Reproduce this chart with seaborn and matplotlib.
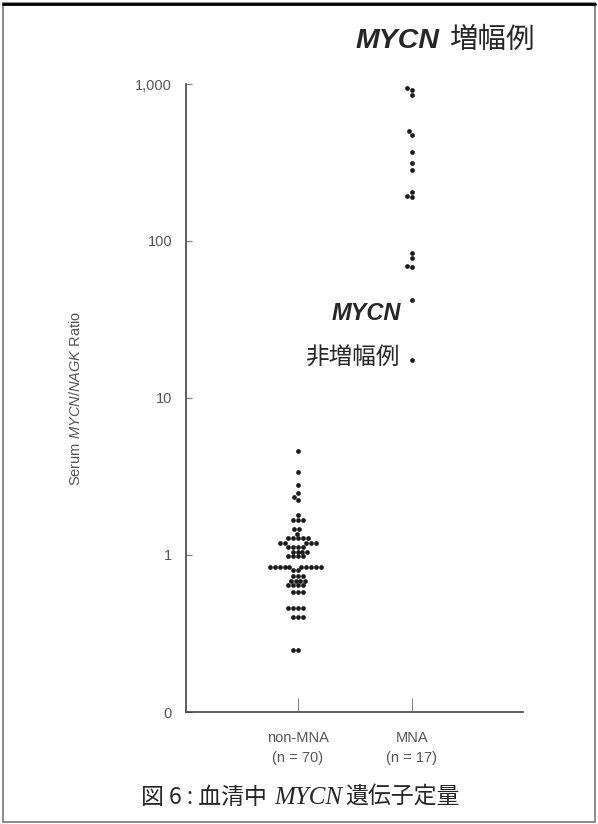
import numpy as np
import pandas as pd
import seaborn as sns
import matplotlib.pyplot as plt
from matplotlib.offsetbox import TextArea, HPacker, AnchoredOffsetbox
from matplotlib.patches import Rectangle
from matplotlib.lines import Line2D
from matplotlib.ticker import NullLocator

# serum MYCN/NAGK ratio
non_mna_values = [4.6, 3.4, 2.8, 2.5, 2.35, 2.24,
                  1.8, 1.67, 1.67, 1.67, 1.46, 1.46, 1.37,
                  1.28, 1.28, 1.28, 1.28, 1.28,
                  1.19, 1.19, 1.19, 1.19, 1.19,
                  1.13, 1.13, 1.13, 1.13,
                  1.05, 1.05, 1.05, 1.05,
                  0.98, 0.98, 0.98, 0.98,
                  0.84, 0.84, 0.84, 0.84, 0.84, 0.84, 0.84, 0.84, 0.84, 0.84,
                  0.80, 0.80, 0.74, 0.74, 0.74,
                  0.68, 0.68, 0.68, 0.68, 0.64, 0.64, 0.64, 0.64,
                  0.58, 0.58, 0.58,
                  0.46, 0.46, 0.46, 0.46, 0.40, 0.40, 0.40,
                  0.25, 0.25]
mna_values = [944, 916, 851, 502, 473, 369, 314, 283, 205, 194, 191,
              84, 78, 69, 68, 42, 17.5]

groups = ['non-MNA', 'MNA']
group_labels = ['non-MNA\n(n = 70)', 'MNA\n(n = 17)']
y_ticks = [0.1, 1, 10, 100, 1000]
y_ticklabels = ['0', '1', '10', '100', '1,000']

df = pd.DataFrame({
    'group': [groups[0]] * len(non_mna_values) + [groups[1]] * len(mna_values),
    'ratio': non_mna_values + mna_values,
})

sns.set_style('ticks')
plt.rcParams['font.family'] = ['Liberation Sans', 'Noto Sans CJK JP', 'DejaVu Sans']
plt.rcParams['mathtext.fontset'] = 'custom'
plt.rcParams['mathtext.rm'] = 'Liberation Sans'
plt.rcParams['mathtext.it'] = 'Liberation Sans:italic'

W, H = 598, 824
fig = plt.figure(figsize=(W / 100, H / 100), dpi=100)
ax = fig.add_axes([186 / W, 1 - 712 / H, 337 / W, 628 / H])

sns.swarmplot(data=df, x='group', y='ratio', order=groups, color='#1a1a1a',
              size=3.4, log_scale=True, ax=ax)

ax.set_ylim(0.1, 1000)
ax.set_yticks(y_ticks)
ax.set_yticklabels(y_ticklabels)
ax.yaxis.set_minor_locator(NullLocator())
ax.set_xlim(-0.982, 1.974)
ax.set_xticks([0, 1])
ax.set_xticklabels(group_labels, linespacing=1.5)
ax.set_xlabel('')
ax.set_ylabel(r'Serum $\mathit{MYCN/NAGK}$ Ratio', fontsize=10.5, color='#555555')
ax.yaxis.set_label_coords(-0.305, 0.5)

sns.despine(ax=ax)
for side in ['left', 'bottom']:
    ax.spines[side].set_color('#444444')
    ax.spines[side].set_linewidth(1.2)
ax.tick_params(axis='y', direction='in', length=4, color='#777777',
               labelcolor='#555555', labelsize=10.5, pad=10)
ax.tick_params(axis='x', direction='in', length=10, color='#888888',
               labelcolor='#555555', labelsize=10.5, pad=14)

# group annotations
top_label = HPacker(children=[
    TextArea('MYCN', textprops=dict(family='Liberation Sans', weight='bold', style='italic', size=20.5)),
    TextArea('増幅例', textprops=dict(family='Noto Sans CJK JP', size=20.5)),
], sep=7, align='baseline', pad=0)
fig.add_artist(AnchoredOffsetbox(loc='center', child=top_label, frameon=False, pad=0, borderpad=0,
                                 bbox_to_anchor=(445 / W, 1 - 40 / H), bbox_transform=fig.transFigure))

fig.text(366 / W, 1 - 313 / H, 'MYCN', family='Liberation Sans', weight='bold', style='italic',
         size=17, ha='center', va='center')
fig.text(352 / W, 1 - 358 / H, '非増幅例', family='Noto Sans CJK JP', size=17,
         ha='center', va='center')

# caption
caption = HPacker(children=[
    TextArea('図 6 : 血清中 ', textprops=dict(family='Noto Sans CJK JP', size=16.5)),
    TextArea('MYCN', textprops=dict(family='Liberation Serif', style='italic', size=18)),
    TextArea('遺伝子定量', textprops=dict(family='Noto Sans CJK JP', size=16.5)),
], sep=2, align='baseline', pad=0)
fig.add_artist(AnchoredOffsetbox(loc='center', child=caption, frameon=False, pad=0, borderpad=0,
                                 bbox_to_anchor=(300 / W, 1 - 797 / H), bbox_transform=fig.transFigure))

# frame around the figure
fig.patches.append(Rectangle((3 / W, 2 / H), 592 / W, 819 / H, transform=fig.transFigure,
                             fill=False, ec='#777777', lw=1.2))
fig.add_artist(Line2D([3 / W, 595 / W], [1 - 4 / H, 1 - 4 / H], color='black', lw=2))

fig.savefig('out.png', dpi=100)
